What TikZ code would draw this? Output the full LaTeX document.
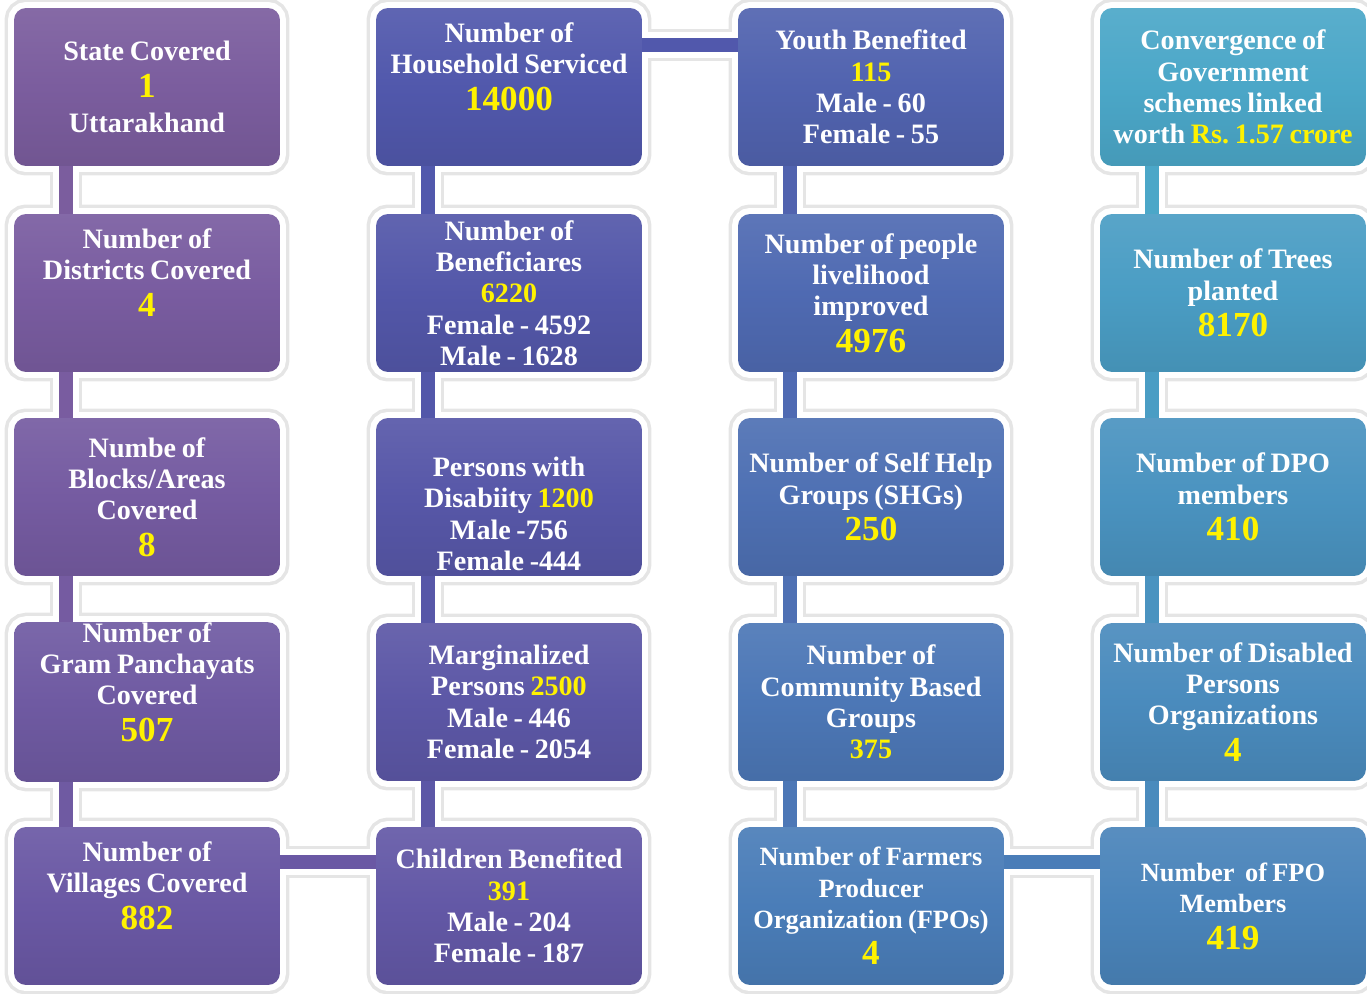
\documentclass[tikz,border=0pt]{standalone}
\usepackage{fontspec}
\setmainfont{Liberation Serif}[WordSpace = 0.8]
\usetikzlibrary{backgrounds}

\definecolor{pA}{HTML}{7B5D9E}
\definecolor{pB}{HTML}{795CA0}
\definecolor{pC}{HTML}{755BA1}
\definecolor{pD}{HTML}{6F5AA2}
\definecolor{pE}{HTML}{6A58A4}
\definecolor{bA}{HTML}{5158AC}
\definecolor{bB}{HTML}{5357A9}
\definecolor{bC}{HTML}{5757A8}
\definecolor{bD}{HTML}{5C57A6}
\definecolor{bE}{HTML}{6358A6}
\definecolor{cA}{HTML}{5163AF}
\definecolor{cB}{HTML}{4F6AB2}
\definecolor{cC}{HTML}{4E70B3}
\definecolor{cD}{HTML}{4C77B6}
\definecolor{cE}{HTML}{4A7DB8}
\definecolor{tA}{HTML}{4BA7C8}
\definecolor{tB}{HTML}{4A9DC4}
\definecolor{tC}{HTML}{4A93C0}
\definecolor{tD}{HTML}{4A8BBD}
\definecolor{tE}{HTML}{4A84BA}

\newcommand{\val}[1]{\textcolor{yellow}{#1}}
\newcommand{\bigval}[1]{{\fontsize{20}{20}\selectfont\textcolor{yellow}{#1}}}
\newcommand{\boxfont}{\fontsize{16}{17.8}\selectfont\bfseries\frenchspacing}
\newcommand{\narrowfont}{\fontsize{15}{17.8}\selectfont\bfseries\frenchspacing}

\tikzset{
    box/.style = {rectangle, rounded corners = 0.24cm, minimum width = 5.32cm,
        minimum height = 3.16cm, align = center, inner sep = 0pt,
        outer sep = 0pt, text = white, font = \boxfont,
        preaction = {draw = black!10, line width = 0.38cm},
        preaction = {draw = white, line width = 0.24cm},
        top color = #1!92!white, bottom color = #1!92!black, middle color = #1},
    link/.style = {line width = 0.28cm, preaction = {draw = white, line width = 0.52cm}},
    halo/.style = {draw = black!10, line width = 0.64cm},
}

\begin{document}
\begin{tikzpicture}[x = 0.02cm, y = -0.02cm]
    \useasboundingbox (0,0) rectangle (1367,994);

    % first column
    \node[box = pA] (st)   at (147,87)  {State Covered\\[3pt] \bigval{1}\\[2pt] Uttarakhand};
    \node[box = pB] (dist) at (147,293) {Number of\\ Districts Covered\\[3pt] \bigval{4}\\ \strut};
    \node[box = pC] (blk)  at (147,497) {Numbe of\\ Blocks/Areas\\ Covered\\[3pt] \bigval{8}};
    \node[box = pD] (gp)   at (147,702) {Number of\\ Gram Panchayats\\ Covered\\[3pt] \bigval{507}\\ \strut};
    \node[box = pE] (vil)  at (147,906) {Number of\\ Villages Covered\\[3pt] \bigval{882}\\ \strut};

    % second column
    \node[box = bA] (hh)   at (509,87)  {Number of\\ Household Serviced\\[3pt] \bigval{14000}\\ \strut};
    \node[box = bB] (ben)  at (509,293) {Number of\\ Beneficiares\\ \val{6220}\\ Female - 4592\\ Male - 1628};
    \node[box = bC] (pwd)  at (509,497) {\strut\\ Persons with\\ Disabiity \val{1200}\\ Male -756\\ Female -444};
    \node[box = bD] (marg) at (509,702) {Marginalized\\ Persons \val{2500}\\ Male - 446\\ Female - 2054};
    \node[box = bE] (chl)  at (509,906) {Children Benefited\\ \val{391}\\ Male - 204\\ Female - 187};

    % third column
    \node[box = cA] (yth)  at (871,87)  {Youth Benefited\\ \val{115}\\ Male - 60\\ Female - 55};
    \node[box = cB] (liv)  at (871,293) {Number of people\\ livelihood\\ improved\\[3pt] \bigval{4976}};
    \node[box = cC] (shg)  at (871,497) {Number of Self Help\\ Groups (SHGs)\\[3pt] \bigval{250}};
    \node[box = cD] (cbg)  at (871,702) {Number of\\ Community Based\\ Groups\\ \val{375}};
    \node[box = cE, font = \narrowfont] (fpo) at (871,906) {Number of Farmers\\ Producer\\ Organization (FPOs)\\[3pt] \bigval{4}};

    % fourth column
    \node[box = tA] (conv) at (1233,87)  {Convergence of\\ Government\\ schemes linked\\ worth \val{Rs. 1.57 crore}};
    \node[box = tB] (tree) at (1233,293) {Number of Trees\\ planted\\[3pt] \bigval{8170}};
    \node[box = tC] (dpo)  at (1233,497) {Number of DPO\\ members\\[3pt] \bigval{410}};
    \node[box = tD] (dpos) at (1233,702) {Number of Disabled\\ Persons\\ Organizations\\[3pt] \bigval{4}};
    \node[box = tE, font = \narrowfont] (fpom) at (1233,906) {Number~ of FPO\\ Members\\[3pt] \bigval{419}};

    % shadows of the links
    \begin{scope}[on background layer]
        \foreach \a/\b in {st/dist, dist/blk, blk/gp, gp/vil, hh/ben, ben/pwd, pwd/marg, marg/chl,
                yth/liv, liv/shg, shg/cbg, cbg/fpo, conv/tree, tree/dpo, dpo/dpos, dpos/fpom}
            \draw[halo] ([xshift = 1.04cm]\a.south west) -- ([xshift = 1.04cm]\b.north west);
        \draw[halo] ([yshift = -0.7cm]vil.north east) -- ([yshift = -0.7cm]chl.north west);
        \draw[halo] ([yshift = -0.74cm]hh.north east) -- ([yshift = -0.74cm]yth.north west);
        \draw[halo] ([yshift = -0.7cm]fpo.north east) -- ([yshift = -0.7cm]fpom.north west);
    \end{scope}

    % links
    \foreach \a/\b/\c in {st/dist/pA, dist/blk/pB, blk/gp/pC, gp/vil/pD, hh/ben/bA, ben/pwd/bB,
            pwd/marg/bC, marg/chl/bD, yth/liv/cA, liv/shg/cB, shg/cbg/cC, cbg/fpo/cD,
            conv/tree/tA, tree/dpo/tB, dpo/dpos/tC, dpos/fpom/tD}
        \draw[link, \c] ([xshift = 1.04cm]\a.south west) -- ([xshift = 1.04cm]\b.north west);
    \draw[link, pE] ([yshift = -0.7cm]vil.north east) -- ([yshift = -0.7cm]chl.north west);
    \draw[link, bA] ([yshift = -0.74cm]hh.north east) -- ([yshift = -0.74cm]yth.north west);
    \draw[link, cE] ([yshift = -0.7cm]fpo.north east) -- ([yshift = -0.7cm]fpom.north west);
\end{tikzpicture}
\end{document}
